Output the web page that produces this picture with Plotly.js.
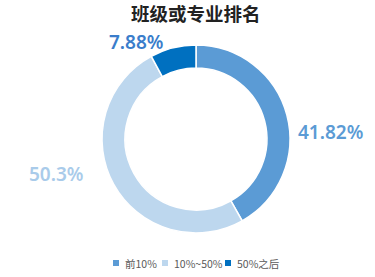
<!DOCTYPE html>
<html>
<head>
<meta charset="utf-8">
<script src="https://cdn.plot.ly/plotly-3.0.1.min.js"></script>
<style>html,body{margin:0;padding:0;background:#fff;}#chart{width:375px;height:277px;}</style>
</head>
<body>
<div id="chart"></div>
<script>
var categories = ["前10%", "10%~50%", "50%之后"];
var values = [41.82, 50.3, 7.88];
var valueLabels = ["41.82%", "50.3%", "7.88%"];
var sliceColors = ["#5B9BD5", "#BDD7EE", "#0070C0"];
var labelColors = ["#5B9BD5", "#A9CBEA", "#3A7DCB"];

var W = 375, H = 277;
// label and legend placement (pixels from top-left)
var labelPos = [[330.5, 132], [55.5, 173.5], [136, 41.5]];
var legendMarkerX = [116, 165, 228];
var legendTextX = [123, 172, 235];
var legendY = 263;

function px(x) { return x / W; }
function py(y) { return 1 - y / H; }

var trace = {
  type: "pie",
  labels: categories,
  values: values,
  textinfo: "none",
  hoverinfo: "none",
  hole: 0.755,
  sort: false,
  direction: "clockwise",
  rotation: 0,
  marker: {colors: sliceColors, line: {color: "#ffffff", width: 1.5}},
  domain: {x: [0.272, 0.7733], y: [0.159, 0.8375]},
  showlegend: false
};

var annotations = [];
var shapes = [];
for (var i = 0; i < categories.length; i++) {
  annotations.push({
    xref: "paper", yref: "paper",
    x: px(labelPos[i][0]), y: py(labelPos[i][1]),
    xanchor: "center", yanchor: "middle",
    text: valueLabels[i], showarrow: false,
    font: {family: "Noto Sans, Open Sans, sans-serif", size: 19, color: labelColors[i], weight: 600}
  });
  annotations.push({
    xref: "paper", yref: "paper",
    x: px(legendTextX[i]), y: py(legendY),
    xanchor: "left", yanchor: "middle",
    text: categories[i], showarrow: false,
    font: {family: "Noto Sans CJK SC, Noto Sans, sans-serif", size: 10.5, color: "#595959"}
  });
  shapes.push({
    type: "rect", xref: "paper", yref: "paper",
    x0: px(legendMarkerX[i] - 3), x1: px(legendMarkerX[i] + 3),
    y0: py(legendY + 3), y1: py(legendY - 3),
    fillcolor: sliceColors[i], line: {width: 0}
  });
}

var layout = {
  width: W,
  height: H,
  margin: {l: 0, r: 0, t: 0, b: 0},
  paper_bgcolor: "#ffffff",
  title: {
    text: "<b>班级或专业排名</b>",
    font: {family: "Noto Sans CJK SC, sans-serif", size: 18.5, color: "#222222"},
    x: 0.522, xanchor: "center", y: 0.948, yanchor: "middle"
  },
  showlegend: false,
  annotations: annotations,
  shapes: shapes
};

Plotly.newPlot("chart", [trace], layout, {displayModeBar: false, staticPlot: true});
</script>
</body>
</html>
